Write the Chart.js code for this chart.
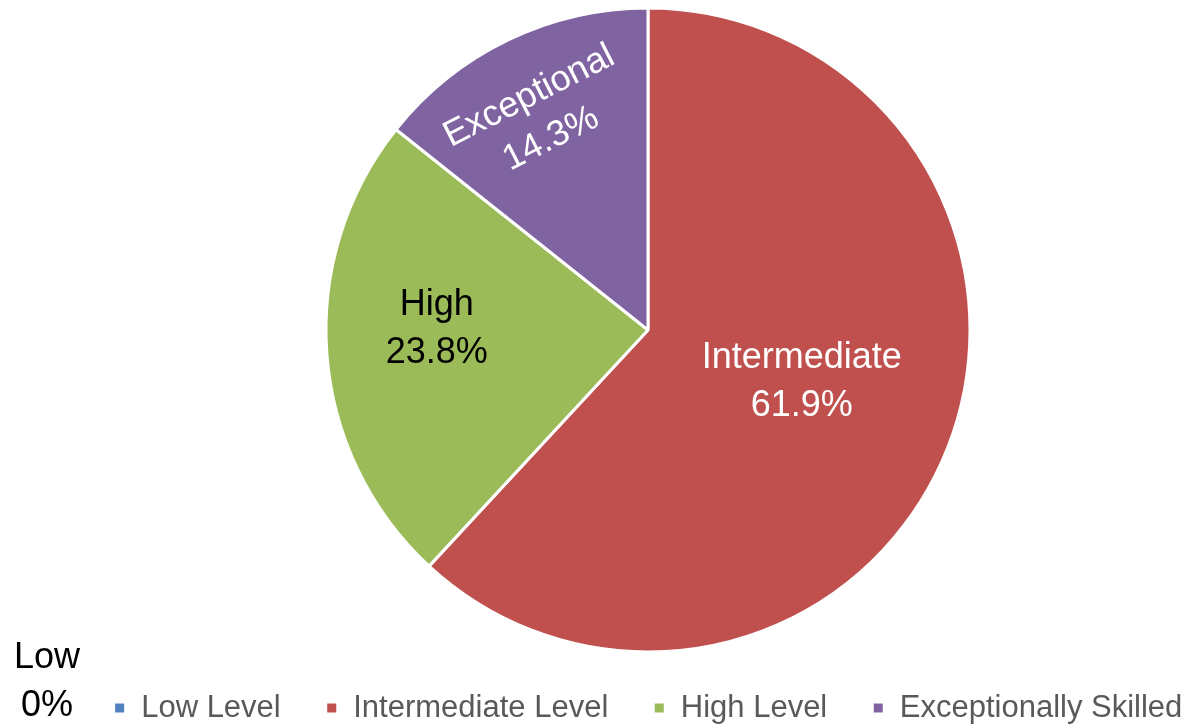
<!DOCTYPE html>
<html>
<head>
<meta charset="utf-8">
<script src="https://cdn.jsdelivr.net/npm/chart.js@4.4.1/dist/chart.umd.min.js"></script>
<style>
  html, body { margin: 0; padding: 0; background: #fff; }
  #wrap { width: 1193px; height: 725px; position: relative; }
</style>
</head>
<body>
<div id="wrap"><canvas id="skillPie"></canvas></div>
<script>
const categories  = ['Low Level', 'Intermediate Level', 'High Level', 'Exceptionally Skilled']
const shortNames  = ['Low', 'Intermediate', 'High', 'Exceptional']
const percentages = [0, 61.9, 23.8, 14.3]
const sliceColors = ['#4F81BD', '#C0504D', '#9BBB59', '#8064A2']
const labelColors = ['#000000', '#ffffff', '#000000', '#ffffff']

const FONT = "'Liberation Sans', Arial, sans-serif"

// [radius fraction, angle nudge in degrees, rotate with slice]
const labelPlacement = [null, [0.504, -2.8, false], [0.656, 4.6, false], [0.74, -1.2, true]]

const sliceLabels = {
  id: 'sliceLabels',
  afterDatasetsDraw(chart) {
    const { ctx } = chart
    const arcs = chart.getDatasetMeta(0).data
    ctx.save()
    ctx.font = `36px ${FONT}`
    ctx.textAlign = 'center'
    ctx.textBaseline = 'middle'
    arcs.forEach((arc, i) => {
      const lines = [shortNames[i], percentages[i].toFixed(percentages[i] ? 1 : 0) + '%']
      ctx.fillStyle = labelColors[i]
      if (!percentages[i]) {
        // zero slice: Excel parks the label outside, bottom-left
        ctx.fillText(lines[0], 47, chart.height - 67)
        ctx.fillText(lines[1], 47, chart.height - 19)
        return
      }
      const [frac, nudge, rotate] = labelPlacement[i]
      const mid = (arc.startAngle + arc.endAngle) / 2 + nudge * Math.PI / 180
      const r = arc.outerRadius * frac
      ctx.save()
      ctx.translate(arc.x + Math.cos(mid) * r, arc.y + Math.sin(mid) * r)
      if (rotate) ctx.rotate(mid + Math.PI / 2 - 2 * Math.PI)
      ctx.fillText(lines[0], 0, -24)
      ctx.fillText(lines[1], 0, 24)
      ctx.restore()
    })
    ctx.restore()
  },
}

// legend keeps the full width, the pie itself sits right of page centre
const pieOffset = {
  id: 'pieOffset',
  afterLayout(chart) {
    chart.chartArea.left  += 103
    chart.chartArea.width -= 103
  },
}

new Chart(document.getElementById('skillPie'), {
  type: 'pie',
  data: {
    labels: categories,
    datasets: [{
      data: percentages,
      backgroundColor: sliceColors,
      borderColor: '#ffffff',
      borderWidth: 3,
      radius: 322,
      clip: false,
    }],
  },
  options: {
    responsive: true, maintainAspectRatio: false,
    animation: false,
    events: [],
    layout: { padding: { top: 12.5, left: 0, right: -103, bottom: -8.5 } },
    plugins: {
      tooltip: { enabled: false },
      legend: {
        display: true, position: 'bottom',
        labels: { font: { family: FONT, size: 31 }, color: '#595959', boxWidth: 12, boxHeight: 12, padding: 45 },
      },
    },
  },
  plugins: [sliceLabels, pieOffset],
})
</script>
</body>
</html>
